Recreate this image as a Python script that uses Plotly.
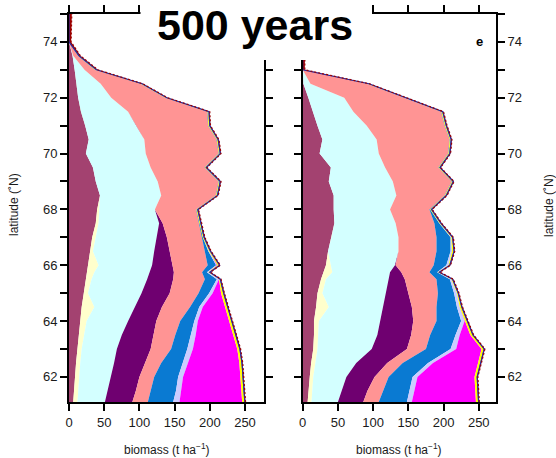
import plotly.graph_objects as go

# Latitude rows (degrees N) shared by both panels
latitude = [61.1, 61.5, 62, 62.5, 63, 63.5, 64, 64.5, 65, 65.5, 65.75, 66, 66.5, 67,
            67.5, 68, 68.5, 69, 69.5, 70, 70.5, 71, 71.5, 72, 72.5, 73, 73.5, 74, 74.5, 75]

# Biomass per plant functional type (t/ha), left panel
mauve_left = [6, 7, 8.5, 10, 12, 14, 15.5, 18, 21, 24, 25.5, 27, 30, 33, 38, 40, 44, 38, 34, 24,
              28, 23, 17, 13, 11, 8, 5, 0, 0, 0]
cream_left = [6, 6, 5.5, 6, 6, 7, 9.5, 18, 6, 8, 10.5, 15, 4, 5, 4, 3, 0, 0, 0, 0,
              0, 0, 0, 0, 0, 0, 0, 0, 0, 0]
cyan_left = [39, 42, 46, 48, 50, 54, 59, 58, 76, 79, 79, 76, 87, 87, 86, 79, 87, 88, 82, 85,
             79, 73, 67, 47, 34, 14, 1, 0, 0, 0]
purple_left = [39, 40, 40, 44, 48, 45, 40, 38, 40, 37, 34, 29, 22, 14, 5, 0, 0, 0, 0, 0,
               0, 0, 0, 0, 0, 0, 0, 0, 0, 0]
pink_left = [22, 21, 21, 23, 29, 31, 34, 40, 41, 45, 40, 50, 50, 50, 51.5, 58.5, 77.5, 86.5, 76.5, 103.5,
             102.5, 101.5, 112.5, 76.5, 56.5, 14.5, 6.5, 0, 0, 0]
blue_left = [36, 36, 34, 31, 23, 22, 20, 13, 15, 17, 7, 12, 5, 1, 0.5, 0.5, 0.5, 0.5, 0.5, 0.5,
             0.5, 0.5, 0.5, 0.5, 0.5, 0.5, 0.5, 0, 0, 0]
lavender_left = [9, 7, 7, 7, 8, 7, 5, 5, 5, 3, 2, 1, 1, 0, 0, 0, 0, 0, 0, 0,
                 0, 0, 0, 0, 0, 0, 0, 0, 0, 0]
magenta_left = [89, 86, 82, 73, 63, 53, 44, 32, 12, 0.2, 0, 1, 0, 0, 0, 0, 0, 0, 0, 0,
                0, 0, 0, 0, 0, 0, 0, 0, 0, 0]
yellow_left = [3, 3, 3, 3, 3, 3, 3, 3, 3, 1, 1.2, 2.2, 1.2, 1.2, 1.2, 1.2, 1.2, 1.2, 1.2, 1.2,
               1.2, 1.2, 1.2, 1.2, 1.2, 1.2, 0.5, 0, 0, 0]
navy_left = [0.8, 0.8, 0.8, 0.8, 0.8, 0.8, 0.8, 0.8, 0.8, 0.8, 0.8, 0.8, 0.8, 0.8, 0.8, 0.8, 0.8, 0.8, 0.8, 0.8,
             0.8, 0.8, 0.8, 0.8, 0.8, 0.8, 0.8, 0, 0, 0]
darkred_left = [1, 1, 1, 1, 1, 1, 1, 1, 1, 1, 1, 1, 1, 1, 1, 1, 1, 1, 1, 1,
                1, 1, 1, 1, 1, 2, 2, 3, 3.5, 4]

# Biomass per plant functional type (t/ha), right panel
mauve_right = [7, 8, 10, 12, 15, 16, 16, 19, 21, 26, 29, 33, 36, 41, 45, 44, 44, 37, 40, 24,
               28, 21, 15, 8, 1, 0, 0, 0, 0, 0]
cream_right = [5.5, 5.5, 5, 6, 6, 6, 7, 18, 7, 7, 13, 7, 0, 0, 0, 0, 0, 0, 0, 0,
               0, 0, 0, 0, 0, 0, 0, 0, 0, 0]
cyan_right = [37.5, 41.5, 47, 58, 77, 84, 87, 76, 89, 89, 82, 91, 100, 95, 87, 80, 89, 91, 77, 84,
              77, 70, 57, 51, 10, 0, 0, 0, 0, 0]
purple_right = [36, 37, 40, 44, 50, 48, 47, 42, 33, 23, 16, 1, 0, 0, 0, 0, 0, 0, 0, 0,
                0, 0, 0, 0, 0, 0, 0, 0, 0, 0]
pink_right = [22, 22, 20, 22, 27, 27, 33, 35, 42, 45, 40, 54, 54, 54, 55, 56, 68.5, 83.5, 75.5, 98.5,
              103.5, 110.5, 124.5, 84.5, 80.5, 0, 0, 0, 0, 0]
blue_right = [40, 38, 34, 36, 35, 36, 35, 29, 23, 19, 11, 18, 20, 20, 7, 1, 0.5, 0.5, 0.5, 0.5,
              0.5, 0.5, 0.5, 0.5, 0.5, 0, 0, 0, 0, 0]
lavender_right = [7, 7, 7, 7, 8, 6, 5, 4, 4, 2, 1, 3, 2, 1, 0.5, 0, 0, 0, 0, 0,
                  0, 0, 0, 0, 0, 0, 0, 0, 0, 0]
magenta_right = [91, 86, 81, 64, 36, 15, 1, 0, 0, 0, 0, 0, 0, 0, 0, 0, 0, 0, 0, 0,
                 0, 0, 0, 0, 0, 0, 0, 0, 0, 0]
yellow_right = [3, 3, 3, 3, 3, 3, 2.2, 2.2, 1.2, 1.2, 1.2, 1.2, 2.2, 1.2, 1.2, 1.2, 1.2, 1.2, 1.2, 1.2,
                1.2, 1.2, 1.2, 1.2, 1.2, 0, 0, 0, 0, 0]
navy_right = [0.8, 0.8, 0.8, 0.8, 0.8, 0.8, 0.8, 0.8, 0.8, 0.8, 0.8, 0.8, 0.8, 0.8, 0.8, 0.8, 0.8, 0.8, 0.8, 0.8,
              0.8, 0.8, 0.8, 0.8, 0.8, 0, 0, 0, 0, 0]
darkred_right = [1, 1, 1, 1, 1, 1, 1, 1, 1, 1, 1, 1, 1, 1, 1, 1, 1, 1, 1, 1,
                 1, 1, 1, 1, 1, 3, 3.5, 3.5, 3.5, 3.5]

layer_colors = ["#A34270", "#FFFFCC", "#D3FFFF", "#6F0070", "#FF9494", "#0A7AD2",
                "#CCCCFF", "#FF00FF", "#FFFF00", "#2828A0", "#9B0000"]

x_ticks = [0, 50, 100, 150, 200, 250]
y_ticks = [62, 64, 66, 68, 70, 72, 74]

left_layers = [mauve_left, cream_left, cyan_left, purple_left, pink_left, blue_left,
               lavender_left, magenta_left, yellow_left, navy_left, darkred_left]
right_layers = [mauve_right, cream_right, cyan_right, purple_right, pink_right, blue_right,
                lavender_right, magenta_right, yellow_right, navy_right, darkred_right]

fig = go.Figure()

for group, layers, xa, ya in (("left", left_layers, "x", "y"), ("right", right_layers, "x2", "y2")):
    for k, (vals, col) in enumerate(zip(layers, layer_colors)):
        if k == 9:
            line = dict(width=1.2, color=col)
        elif k == 10:
            line = dict(width=1.2, color=col, dash="2px,2px")
        else:
            line = dict(width=0, color=col)
        fig.add_trace(go.Scatter(
            x=vals, y=latitude, stackgroup=group, orientation="h",
            mode="lines", line=line, fillcolor=col,
            xaxis=xa, yaxis=ya, showlegend=False, hoverinfo="skip"))

W, H = 556, 458
font_family = "Liberation Sans, Arial, Helvetica, sans-serif"

axis_common = dict(
    showgrid=False, zeroline=False, showline=True, linecolor="black", linewidth=2,
    ticks="outside", ticklen=7, tickwidth=1.5, tickcolor="black", mirror="ticks",
    tickfont=dict(family=font_family, size=13, color="#1a1a1a"), automargin=False,
)
lat_minor = dict(tickvals=[63, 65, 67, 69, 71, 73, 75], ticks="outside", ticklen=7,
                 tickwidth=1.5, tickcolor="black", showgrid=False)

y_dom = [1 - 402 / H, 1 - 14 / H]

fig.update_layout(
    width=W, height=H,
    margin=dict(l=0, r=0, t=0, b=0, autoexpand=False),
    paper_bgcolor="white", plot_bgcolor="white",
    xaxis=dict(domain=[69 / W, 264 / W], range=[0, 277], tickvals=x_ticks, anchor="y", **axis_common),
    yaxis=dict(domain=y_dom, range=[61.1, 75], tickvals=y_ticks, minor=lat_minor,
               anchor="x", **axis_common),
    xaxis2=dict(domain=[302.7 / W, 496 / W], range=[0, 274.5], tickvals=x_ticks, anchor="y2", **axis_common),
    yaxis2=dict(domain=y_dom, range=[61.1, 75], tickvals=y_ticks, minor=lat_minor,
                anchor="x2", side="right", **axis_common),
    shapes=[dict(type="rect", xref="paper", yref="paper",
                 x0=140.5 / W, x1=372 / W, y0=1 - 60 / H, y1=1.0,
                 fillcolor="white", line=dict(width=0), layer="above")],
)

title_font = dict(family=font_family, size=12, color="#1a1a1a")
centered = dict(xref="paper", yref="paper", showarrow=False, xanchor="center", yanchor="middle")
fig.add_annotation(text="biomass (t ha<sup>−1</sup>)", x=166.5 / W, y=1 - 449 / H,
                   font=title_font, **centered)
fig.add_annotation(text="biomass (t ha<sup>−1</sup>)", x=399 / W, y=1 - 449 / H,
                   font=title_font, **centered)
fig.add_annotation(text="latitude (˚N)", x=14 / W, y=1 - 205 / H, textangle=-90,
                   font=title_font, **centered)
fig.add_annotation(text="latitude (˚N)", x=549 / W, y=1 - 206 / H, textangle=-90,
                   font=title_font, **centered)
fig.add_annotation(text="<b>500 years</b>", x=255 / W, y=1 - 25 / H,
                   font=dict(family=font_family, size=43, color="black"), **centered)
fig.add_annotation(text="<b>e</b>", x=479 / W, y=1 - 42 / H,
                   font=dict(family=font_family, size=13, color="black"), **centered)

fig.write_html("out.html")
